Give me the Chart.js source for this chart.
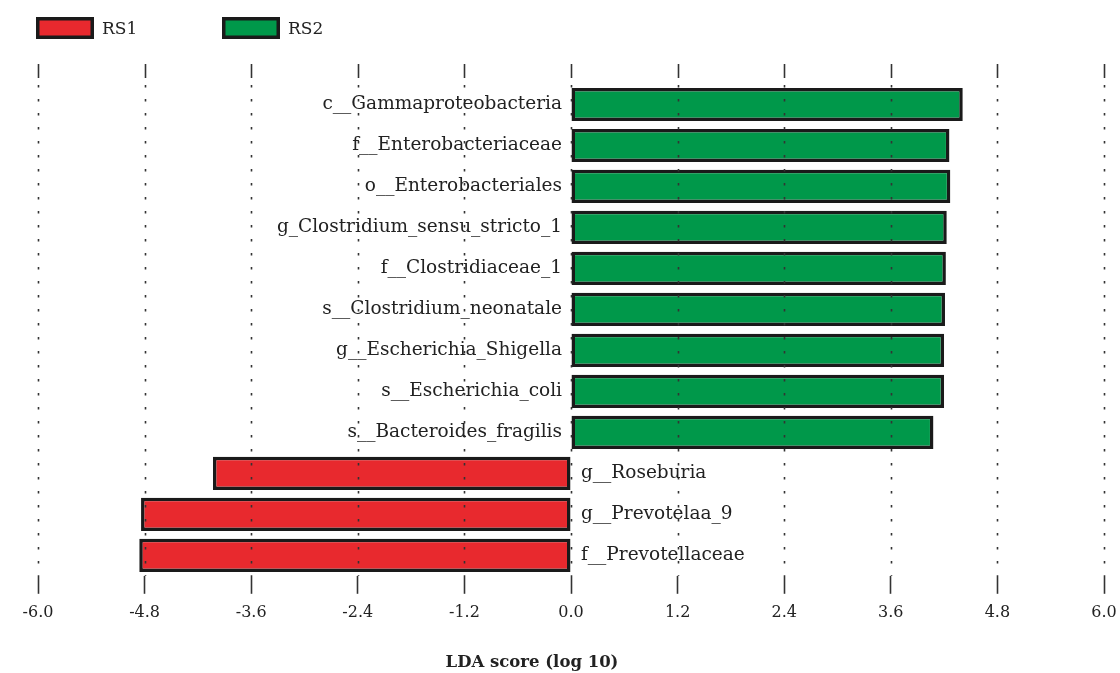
<!DOCTYPE html>
<html>
<head>
<meta charset="utf-8">
<script src="https://cdn.jsdelivr.net/npm/chart.js@4/dist/chart.umd.min.js"></script>
<style>
  html, body { margin: 0; padding: 0; background: #fff; }
  #wrap { width: 1120px; height: 673px; position: relative; }
</style>
</head>
<body>
<div id="wrap"><canvas id="ldaChart"></canvas></div>
<script>
// taxa, top to bottom
const taxa = [
  "c__Gammaproteobacteria",
  "f__Enterobacteriaceae",
  "o__Enterobacteriales",
  "g_Clostridium_sensu_stricto_1",
  "f__Clostridiaceae_1",
  "s__Clostridium_neonatale",
  "g__Escherichia_Shigella",
  "s__Escherichia_coli",
  "s__Bacteroides_fragilis",
  "g__Roseburia",
  "g__Prevotelaa_9",
  "f__Prevotellaceae"
];
// LDA scores per group (null where the taxon belongs to the other group)
const rs1Scores = [null, null, null, null, null, null, null, null, null, -4.03, -4.84, -4.86];
const rs2Scores = [4.41, 4.26, 4.27, 4.23, 4.22, 4.21, 4.20, 4.20, 4.08, null, null, null];
const xTicks = [-6.0, -4.8, -3.6, -2.4, -1.2, 0.0, 1.2, 2.4, 3.6, 4.8, 6.0];

const RED = "#e8292e";
const GREEN = "#00984a";
const INK = "#222222";
const SERIF = "'DejaVu Serif', serif";

// dotted grid lines over the bars, plus solid tick marks at the top
const gridPlugin = {
  id: "dottedGrid",
  afterDatasetsDraw(chart) {
    const { ctx, chartArea, scales } = chart;
    ctx.save();
    ctx.strokeStyle = "#333";
    ctx.lineWidth = 1.6;
    xTicks.forEach(v => {
      const x = Math.round(scales.x.getPixelForValue(v)) + 0.5;
      ctx.setLineDash([]);
      ctx.beginPath();
      ctx.moveTo(x, chartArea.top - 20);
      ctx.lineTo(x, chartArea.top - 6);
      ctx.stroke();
      ctx.setLineDash([2.5, 11.5]);
      ctx.beginPath();
      ctx.moveTo(x, chartArea.top + 1);
      ctx.lineTo(x, chartArea.bottom);
      ctx.stroke();
    });
    ctx.restore();
  },
  afterDraw(chart) {
    const { ctx, scales } = chart;
    ctx.save();
    // taxon labels beside the zero line
    ctx.font = "18.5px " + SERIF;
    ctx.fillStyle = INK;
    ctx.textBaseline = "middle";
    const x0 = scales.x.getPixelForValue(0);
    taxa.forEach((name, i) => {
      const y = scales.y.getPixelForValue(i);
      if (rs2Scores[i] !== null) {
        ctx.textAlign = "right";
        ctx.fillText(name, x0 - 9, y);
      } else {
        ctx.textAlign = "left";
        ctx.fillText(name, x0 + 10, y);
      }
    });
    // legend
    const items = [["RS1", RED, 36], ["RS2", GREEN, 222]];
    items.forEach(([txt, col, lx]) => {
      ctx.fillStyle = col;
      ctx.fillRect(lx, 17, 58, 22);
      ctx.strokeStyle = "#1a1a1a";
      ctx.lineWidth = 3.5;
      ctx.strokeRect(lx + 1.75, 17 + 1.75, 54.5, 18.5);
      ctx.fillStyle = INK;
      ctx.textAlign = "left";
      ctx.font = "17px " + SERIF;
      ctx.fillText(txt, lx + 66, 30);
    });
    // axis title
    ctx.font = "bold 16.5px " + SERIF;
    ctx.textAlign = "center";
    ctx.fillText("LDA score (log 10)", 532, 663);
    ctx.restore();
  }
};

const barStyle = {
  borderColor: "#1a1a1a",
  borderWidth: 3.5,
  borderSkipped: false,
  barPercentage: 0.81,
  categoryPercentage: 1.0
};

new Chart(document.getElementById("ldaChart"), {
  type: "bar",
  data: {
    labels: taxa,
    datasets: [
      Object.assign({ label: "RS1", data: rs1Scores, backgroundColor: RED }, barStyle),
      Object.assign({ label: "RS2", data: rs2Scores, backgroundColor: GREEN }, barStyle)
    ]
  },
  options: {
    indexAxis: "y",
    responsive: true,
    maintainAspectRatio: false,
    animation: false,
    layout: { padding: { left: 38, right: 16, top: 84, bottom: 42 } },
    plugins: {
      legend: { display: false },
      tooltip: { enabled: false }
    },
    scales: {
      x: {
        min: -6,
        max: 6,
        afterBuildTicks(scale) {
          scale.ticks = xTicks.map(v => ({ value: v }));
        },
        afterFit(scale) {
          // keep the plot edges fixed, labels may hang over the padding
          scale.paddingLeft = 0;
          scale.paddingRight = 0;
        },
        ticks: {
          callback: v => Number(v).toFixed(1),
          color: INK,
          font: { family: SERIF, size: 16 },
          padding: 9,
          maxRotation: 0,
          autoSkip: false
        },
        grid: {
          drawOnChartArea: false,
          drawTicks: true,
          tickLength: 18,
          tickColor: "#333",
          tickWidth: 1.6
        },
        border: { display: false }
      },
      y: {
        stacked: true,
        display: false
      }
    }
  },
  plugins: [gridPlugin]
});
</script>
</body>
</html>
